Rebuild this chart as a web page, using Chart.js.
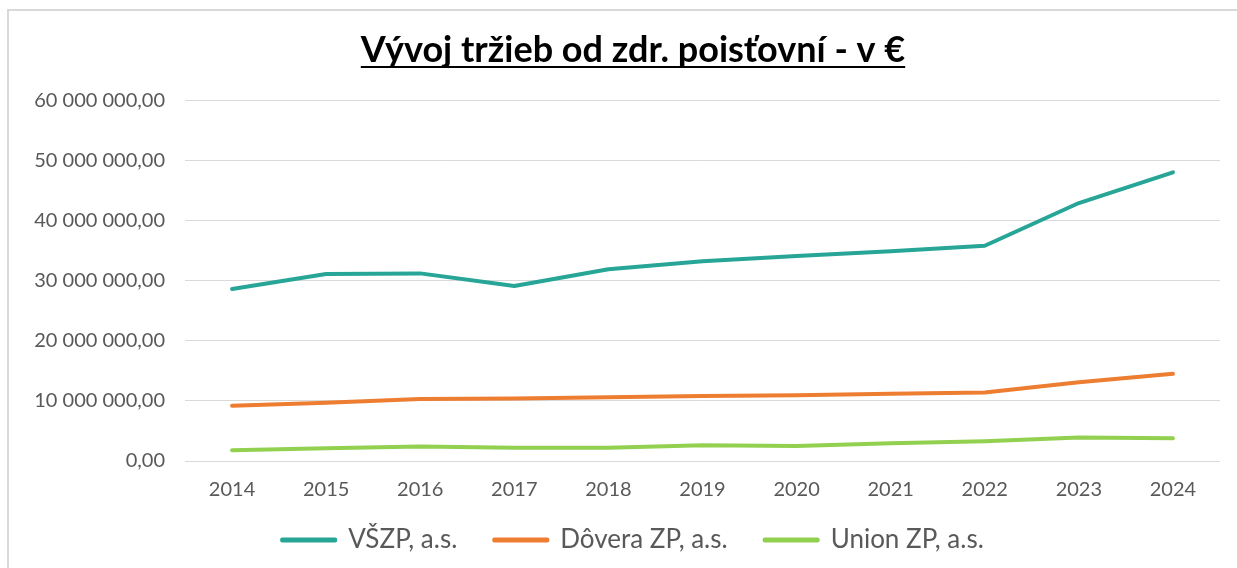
<!DOCTYPE html>
<html>
<head>
<meta charset="utf-8">
<script src="https://cdn.jsdelivr.net/npm/chart.js@4/dist/chart.umd.min.js"></script>
<style>
  html, body { margin: 0; padding: 0; background: #fff; overflow: hidden; }
  #frame { position: absolute; left: 7px; top: 9px; width: 1300px; height: 700px;
           border-top: 2px solid #d9d9d9; border-left: 2px solid #d9d9d9; }
  #chart { position: absolute; left: 8px; top: 0; }
</style>
</head>
<body>
<div id="frame"></div>
<canvas id="chart" width="1229" height="568"></canvas>
<script>
const years = ['2014', '2015', '2016', '2017', '2018', '2019', '2020', '2021', '2022', '2023', '2024'];
const vszp = [28600000, 31100000, 31200000, 29100000, 31900000, 33200000, 34100000, 34900000, 35800000, 42900000, 48000000];
const dovera = [9200000, 9700000, 10300000, 10400000, 10600000, 10800000, 10950000, 11200000, 11400000, 13100000, 14500000];
const union = [1800000, 2100000, 2400000, 2200000, 2200000, 2600000, 2500000, 2950000, 3300000, 3900000, 3800000];
const seriesNames = ['VŠZP, a.s.', 'Dôvera ZP, a.s.', 'Union ZP, a.s.'];
const titleText = 'Vývoj tržieb od zdr. poisťovní - v €';

const colors = ['#27a596', '#ed7d31', '#92d050'];
const font = 'Lato';
const titleSize = 36;

// 60000000 -> "60 000 000,00"
function fmt(v) {
  let parts = Number(v).toFixed(2).split('.');
  let int = parts[0].replace(/\B(?=(\d{3})+(?!\d))/g, ' ');
  return int + ',' + parts[1];
}

// podciarknutie nadpisu
const underlineTitle = {
  id: 'underlineTitle',
  afterDraw(chart) {
    const tb = chart.titleBlock;
    if (!tb) return;
    const ctx = chart.ctx;
    ctx.save();
    ctx.font = 'bold ' + titleSize + 'px ' + font;
    const w = ctx.measureText(titleText).width;
    const cx = (tb.left + tb.right) / 2;
    const mid = tb.top + tb.options.padding.top + titleSize * 1.2 / 2;
    const y = mid + 16.5;
    ctx.strokeStyle = '#000';
    ctx.lineWidth = 2;
    ctx.beginPath();
    ctx.moveTo(cx - w / 2, y);
    ctx.lineTo(cx + w / 2, y);
    ctx.stroke();
    ctx.restore();
  }
};

function mkSet(label, data, color) {
  return {
    label: label,
    data: data,
    borderColor: color,
    backgroundColor: color,
    borderWidth: 4,
    borderCapStyle: 'round',
    borderJoinStyle: 'round',
    pointRadius: 0,
    tension: 0,
    fill: false
  };
}

// popisky osi sa nemaju orezavat na box osi
function noClip(scale) {
  scale._computeLabelArea = () => undefined;
}

new Chart(document.getElementById('chart').getContext('2d'), {
  type: 'line',
  data: {
    labels: years,
    datasets: [
      mkSet(seriesNames[0], vszp, colors[0]),
      mkSet(seriesNames[1], dovera, colors[1]),
      mkSet(seriesNames[2], union, colors[2])
    ]
  },
  options: {
    responsive: false,
    animation: false,
    devicePixelRatio: 1,
    layout: { padding: { left: 38, right: 17, top: 0, bottom: 5 } },
    plugins: {
      title: {
        display: true,
        text: titleText,
        color: '#000',
        font: { family: font, size: titleSize, weight: 'bold', lineHeight: 1.2 },
        padding: { top: 29, bottom: 28 }
      },
      legend: {
        position: 'bottom',
        labels: {
          boxWidth: 53,
          boxHeight: 1,
          padding: 37,
          color: '#595959',
          font: { family: font, size: 26 }
        }
      },
      tooltip: { enabled: false }
    },
    scales: {
      x: {
        offset: true,
        grid: { display: false, drawTicks: false },
        border: { display: false },
        ticks: { color: '#595959', font: { family: font, size: 20 }, padding: 17, maxRotation: 0 },
        afterFit(scale) { scale.height = 29; noClip(scale); }
      },
      y: {
        min: 0,
        max: 60000000,
        grid: { color: '#d9d9d9', lineWidth: 1, drawTicks: false },
        border: { display: false },
        ticks: {
          stepSize: 10000000,
          color: '#595959',
          font: { family: font, size: 20 },
          padding: 20,
          callback: v => fmt(v)
        },
        afterFit(scale) { scale.width = 139; noClip(scale); }
      }
    }
  },
  plugins: [underlineTitle]
});
</script>
</body>
</html>
